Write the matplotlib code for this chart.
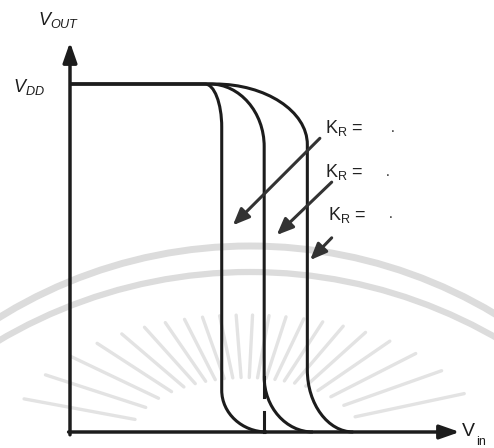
import matplotlib
matplotlib.use('Agg')
import matplotlib.pyplot as plt
import numpy as np
from matplotlib.path import Path
from matplotlib.patches import PathPatch, Arc

plt.rcParams['mathtext.fontset'] = 'custom'
plt.rcParams['mathtext.it'] = 'Liberation Sans:italic'
plt.rcParams['mathtext.rm'] = 'Liberation Sans'
plt.rcParams['font.family'] = ['Liberation Sans', 'DejaVu Sans']

VDD = 5.0
# inverter transfer curves, one per K_R (volts)
knee_vin = [1.94, 2.01, 2.08]      # where Vout starts leaving VDD
switch_vin = [2.18, 2.79, 3.41]    # near-vertical transition
upper_vout = [4.38, 4.10, 4.13]    # top of vertical part
lower_vout = [0.60, 0.79, 0.89]    # bottom of vertical part
foot_vin = [2.83, 3.49, 4.07]      # where Vout reaches 0

kr_label_pos = [(3.66, 4.30), (3.66, 3.67), (3.70, 3.04)]
kr_value_pos = [(4.63, 4.31), (4.57, 3.68), (4.60, 3.07)]
arrow_tail = [(3.59, 4.22), (3.76, 3.59), (3.76, 2.79)]
arrow_head = [(2.34, 2.97), (2.97, 2.83), (3.45, 2.47)]

PX = 69.6          # pixels per volt
X0, Y0 = 70, 432   # origin in pixels
W, H = 494, 448

fig = plt.figure(figsize=(W / 100, H / 100), dpi=100)

# faint background emblem
wm = fig.add_axes([0, 0, 1, 1], zorder=0)
wm.set_xlim(0, W)
wm.set_ylim(H, 0)
wm.axis('off')
wm_col = '#dcdcdc'
wm.add_patch(Arc((250, 722), 952, 952, theta1=180, theta2=360,
                 color=wm_col, lw=5.0))
wm.add_patch(Arc((250, 766), 988, 988, theta1=180, theta2=360,
                 color=wm_col, lw=4.5))
cx, cy = 246, 440
for a in np.radians(np.arange(12, 172, 7.5)):
    r_out = 1.0 / np.hypot(np.cos(a) / 235, np.sin(a) / 125)
    r_in = 0.5 * r_out
    wm.plot([cx + r_in * np.cos(a), cx + r_out * np.cos(a)],
            [cy - r_in * np.sin(a), cy - r_out * np.sin(a)],
            color='#e3e3e3', lw=2.4, solid_capstyle='round')

ax = fig.add_axes([0, 0, 1, 1], zorder=1)
ax.patch.set_alpha(0)
ax.set_xlim(-X0 / PX, (W - X0) / PX)
ax.set_ylim(-(H - Y0) / PX, Y0 / PX)
ax.axis('off')

ink = '#1c1c1c'
k = 0.55
for kn, sw, up, lo, ft in zip(knee_vin, switch_vin, upper_vout, lower_vout, foot_vin):
    verts = [(0, VDD), (kn, VDD),
             (kn + k * (sw - kn), VDD), (sw, up + k * (VDD - up)), (sw, up),
             (sw, lo),
             (sw, (1 - k) * lo), (ft - k * (ft - sw), 0), (ft, 0)]
    codes = [Path.MOVETO, Path.LINETO,
             Path.CURVE4, Path.CURVE4, Path.CURVE4,
             Path.LINETO,
             Path.CURVE4, Path.CURVE4, Path.CURVE4]
    ax.add_patch(PathPatch(Path(verts, codes), fill=False, lw=2.2,
                           edgecolor=ink, capstyle='butt', joinstyle='round'))

# middle curve's vertical continues a little, with a short tick at the axis
ax.plot([switch_vin[1]] * 2, [lower_vout[1], 0.50], color=ink, lw=2.2)
ax.plot([switch_vin[1]] * 2, [0.0, 0.29], color=ink, lw=2.2)

# axes with arrow heads
axis_style = dict(arrowstyle='-|>,head_length=1.2,head_width=0.42',
                  lw=2.5, color=ink, shrinkA=0, shrinkB=0, mutation_scale=10)
ax.annotate('', xy=(0, 5.60), xytext=(0, -0.04), arrowprops=axis_style)
ax.annotate('', xy=(5.60, 0), xytext=(-0.02, 0), arrowprops=axis_style)

kr_style = dict(arrowstyle='-|>,head_length=1.0,head_width=0.42',
                lw=2.2, color='#333333', shrinkA=0, shrinkB=0, mutation_scale=10)
for tail, head in zip(arrow_tail, arrow_head):
    ax.annotate('', xy=head, xytext=tail, arrowprops=kr_style)

for (x, y) in kr_label_pos:
    ax.text(x, y, r'K$_\mathrm{R}$ =', fontsize=13, color='#222222',
            ha='left', va='baseline')
for (x, y) in kr_value_pos:
    ax.text(x, y, '.', fontsize=10, color='#222222', ha='center', va='baseline')

ax.text(-0.46, 5.85, r'$V_{OUT}$', fontsize=13, color=ink, ha='left', va='baseline')
ax.text(-0.82, 4.89, r'$V_{DD}$', fontsize=13, color=ink, ha='left', va='baseline')
ax.text(5.63, -0.06, 'V', fontsize=14, color=ink, ha='left', va='baseline')
ax.text(5.84, -0.19, 'in', fontsize=9, color=ink, ha='left', va='baseline')

fig.savefig('out.png', dpi=100)
